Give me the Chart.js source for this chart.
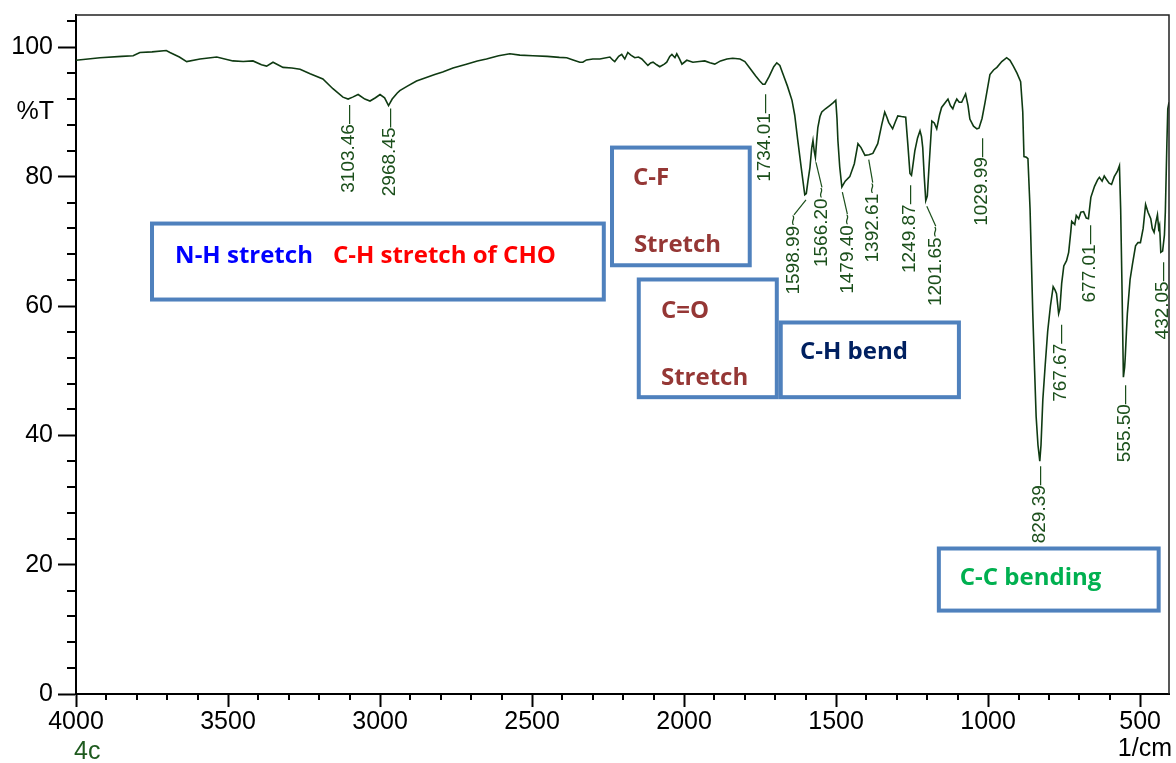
<!DOCTYPE html>
<html>
<head>
<meta charset="utf-8">
<script src="https://cdn.jsdelivr.net/npm/chart.js@4.4.1/dist/chart.umd.min.js"></script>
<style>
  html, body { margin: 0; padding: 0; background: #fff; }
  #wrap { width: 1176px; height: 763px; }
</style>
</head>
<body>
<div id="wrap"><canvas id="irChart" width="1176" height="763"></canvas></div>
<script>
// IR spectrum (wavenumber in 1/cm, transmittance in %T)
const wavenumber = [
  4000, 3921, 3850, 3812, 3790, 3750, 3703, 3691, 3660, 3636, 3592, 3537, 3484, 3450, 3418, 3390,
  3373, 3352, 3319, 3290, 3263, 3230, 3188, 3155, 3122, 3105, 3090, 3072, 3050, 3033, 3015, 3000,
  2985, 2972, 2960, 2944, 2935, 2910, 2880, 2850, 2820, 2794, 2760, 2716, 2680, 2650, 2610, 2573,
  2540, 2497, 2450, 2410, 2386, 2365, 2343, 2333, 2321, 2300, 2277, 2244, 2234, 2228, 2215, 2205,
  2195, 2185, 2175, 2162, 2150, 2139, 2119, 2110, 2102, 2090, 2080, 2065, 2057, 2047, 2040, 2030,
  2024, 2015, 2007, 1991, 1971, 1950, 1932, 1915, 1899, 1880, 1859, 1840, 1816, 1800, 1784, 1765,
  1751, 1741, 1734, 1720, 1705, 1695, 1685, 1675, 1660, 1645, 1636, 1626, 1615, 1603, 1598, 1592,
  1586, 1580, 1576, 1572, 1568, 1564, 1560, 1553, 1547, 1535, 1521, 1510, 1501, 1497, 1494, 1488,
  1481, 1470, 1455, 1440, 1428, 1418, 1405, 1392, 1379, 1363, 1350, 1340, 1333, 1327, 1314, 1305,
  1297, 1285, 1271, 1264, 1257, 1252, 1248, 1241, 1232, 1224, 1219, 1215, 1210, 1205, 1200, 1195,
  1185, 1177, 1169, 1160, 1153, 1140, 1132, 1124, 1116, 1110, 1103, 1095, 1087, 1080, 1074, 1066,
  1060, 1048, 1037, 1030, 1020, 1010, 994, 982, 971, 955, 939, 928, 917, 905, 893, 886,
  882, 874, 869, 862, 853, 847, 842, 836, 830, 826, 820, 812, 804, 795, 786, 780,
  775, 768, 764, 758, 751, 742, 735, 728, 725, 715, 710, 702, 695, 686, 677, 670,
  662, 650, 640, 634, 625, 618, 611, 602, 594, 585, 575, 568, 564, 560, 555, 551,
  549, 545, 542, 533, 525, 515, 507, 499, 490, 482, 474, 465, 460, 454, 448, 443,
  439, 436, 432, 426, 420, 417, 412, 409, 405
];
const transmittance = [
  98.0, 98.4, 98.6, 98.7, 99.2, 99.3, 99.5, 99.2, 98.5, 97.8, 98.2, 98.5, 97.9, 97.8, 97.9, 97.3,
  97.1, 97.7, 96.9, 96.8, 96.6, 95.9, 95.1, 93.6, 92.3, 92.0, 92.3, 92.7, 92.0, 91.7, 92.2, 92.7,
  92.2, 91.0, 92.0, 92.9, 93.3, 94.0, 94.8, 95.3, 95.8, 96.2, 96.8, 97.4, 97.9, 98.2, 98.7, 99.0,
  98.8, 98.7, 98.6, 98.45, 98.4, 98.05, 97.7, 97.7, 98.05, 98.2, 98.2, 98.5, 98.0, 97.8, 98.6, 98.9,
  98.2, 99.2, 98.8, 98.4, 98.5, 98.2, 97.2, 97.6, 97.7, 97.3, 97.0, 97.4, 97.7, 98.6, 98.9, 98.4,
  99.0, 98.2, 97.4, 98.0, 97.7, 97.8, 97.9, 97.6, 97.4, 97.9, 98.2, 98.3, 98.2, 97.8, 96.8, 95.6,
  94.8, 94.3, 94.3, 95.5, 97.0, 97.6, 97.2, 95.9, 94.0, 91.8, 89.5, 85.6, 81.5, 77.2, 77.4, 79.5,
  81.4, 84.5, 85.6, 84.0, 83.0, 85.5, 87.6, 89.3, 90.0, 90.5, 91.0, 91.4, 91.8, 89.0, 85.6, 81.5,
  78.4, 79.3, 80.0, 82.0, 85.1, 84.5, 83.3, 83.4, 83.6, 85.1, 88.0, 90.0, 89.2, 88.4, 87.4, 88.5,
  89.4, 89.3, 89.2, 85.0, 80.5, 80.2, 81.5, 84.0, 86.0, 87.1, 86.2, 84.5, 80.0, 76.3, 77.0, 81.0,
  88.6, 88.3, 87.4, 89.5, 90.7, 91.5, 92.0, 91.0, 90.5, 91.3, 92.0, 91.5, 91.5, 92.2, 92.8, 91.0,
  88.9, 87.8, 87.4, 87.5, 89.0, 91.5, 95.8, 96.5, 96.9, 97.8, 98.4, 98.0, 97.1, 96.0, 94.7, 90.0,
  83.1, 83.0, 82.8, 75.0, 58.8, 50.0, 42.9, 38.5, 36.0, 38.5, 45.5, 51.0, 56.1, 60.0, 63.0, 62.5,
  61.9, 58.8, 59.5, 63.5, 66.2, 67.0, 68.3, 71.5, 73.1, 72.6, 74.0, 73.5, 74.5, 74.6, 73.6, 73.5,
  76.8, 78.5, 79.5, 79.9, 79.3, 80.1, 79.6, 79.0, 78.8, 80.0, 80.8, 81.7, 75.0, 64.1, 49.0, 50.5,
  52.0, 56.0, 58.8, 64.1, 66.5, 69.3, 69.8, 69.8, 72.0, 75.7, 74.5, 73.5, 72.0, 71.4, 73.0, 74.1,
  72.0, 72.5, 68.3, 68.5, 71.0, 74.6, 85.0, 90.5, 91.5
];

// labelled peaks
const peakWavenumber = [3103.46, 2968.45, 1734.01, 1598.99, 1566.20, 1479.40, 1392.61, 1249.87,
  1201.65, 1029.99, 829.39, 767.67, 677.01, 555.50, 432.05];
const peakTransmittance = [92.0, 91.0, 94.3, 77.2, 83.0, 78.4, 83.4, 80.2,
  76.2, 87.5, 36.0, 58.8, 73.4, 49.0, 68.3];

const xTickValues = [4000, 3500, 3000, 2500, 2000, 1500, 1000, 500];
const yTickValues = [0, 20, 40, 60, 80, 100];

// layout of peak labels in pixels (offset from the peak)
const peakLabelNudge = [
  [0, 6], [0, 3], [0, 10], [-12, 20], [6, 30], [5, 27], [4, 28], [-2, 10],
  [9, 25], [3, 10], [0, 5], [2, 11], [3, 6], [2, 8], [2, 10]
];

// hand-drawn assignment boxes (in axis units)
const boxes = [
  { x1: 3750, x2: 2264, y1: 72.75, y2: 61.0 },
  { x1: 2237, x2: 1784, y1: 84.5, y2: 66.3 },
  { x1: 2149, x2: 1695, y1: 64.1, y2: 45.9 },
  { x1: 1682, x2: 1096, y1: 57.45, y2: 45.9 },
  { x1: 1162, x2: 439, y1: 22.5, y2: 12.9 }
];
const boxTexts = [
  { text: 'N-H stretch', x: 3674, y: 67.65, color: '#0000ff' },
  { text: 'C-H stretch of CHO', x: 3155, y: 67.65, color: '#ff0000' },
  { text: 'C-F', x: 2168, y: 79.8, color: '#953735' },
  { text: 'Stretch', x: 2165, y: 69.35, color: '#953735' },
  { text: 'C=O', x: 2076, y: 59.15, color: '#953735' },
  { text: 'Stretch', x: 2076, y: 48.8, color: '#953735' },
  { text: 'C-H bend', x: 1619, y: 52.8, color: '#002060' },
  { text: 'C-C bending', x: 1093, y: 17.9, color: '#00b050' }
];

const axisFont = { family: "'Liberation Sans', Arial, sans-serif", size: 25 };
const curveColor = '#0f3a12';
const labelColor = '#1b4f1b';

const overlay = {
  id: 'overlay',
  afterDraw(chart) {
    const ctx = chart.ctx;
    const xs = chart.scales.x, ys = chart.scales.y;
    const a = chart.chartArea;
    ctx.save();

    // frame top and right
    ctx.strokeStyle = '#222';
    ctx.lineWidth = 1.5;
    ctx.beginPath();
    ctx.moveTo(a.left, a.top); ctx.lineTo(a.right, a.top); ctx.lineTo(a.right, a.bottom);
    ctx.stroke();

    // minor ticks
    ctx.strokeStyle = '#000';
    ctx.lineWidth = 2;
    ctx.beginPath();
    for (let v = 500; v <= 4000; v += 100) {
      if (v % 500 === 0) continue;
      const px = Math.round(xs.getPixelForValue(v));
      ctx.moveTo(px, a.bottom); ctx.lineTo(px, a.bottom + 6);
    }
    for (let v = 0; v <= 104; v += 4) {
      if (v % 20 === 0) continue;
      const py = Math.round(ys.getPixelForValue(v));
      ctx.moveTo(a.left, py); ctx.lineTo(a.left - 9, py);
    }
    ctx.stroke();

    // axis captions
    ctx.font = `${axisFont.size}px ${axisFont.family}`;
    ctx.fillStyle = '#000';
    ctx.textBaseline = 'middle';
    ctx.textAlign = 'right';
    ctx.fillText('%T', a.left - 22, ys.getPixelForValue(90));
    ctx.fillText('1/cm', chart.width - 4, a.bottom + 55);
    ctx.textAlign = 'left';
    ctx.fillStyle = '#1e5a1e';
    ctx.fillText('4c', a.left - 2, a.bottom + 58);

    // peak labels
    ctx.font = "19px 'Liberation Sans', Arial, sans-serif";
    ctx.fillStyle = labelColor;
    ctx.strokeStyle = labelColor;
    ctx.lineWidth = 1.2;
    peakWavenumber.forEach((w, i) => {
      const px = xs.getPixelForValue(w);
      const py = ys.getPixelForValue(peakTransmittance[i]);
      const [dx, dy] = peakLabelNudge[i];
      const lx = px + dx, ly = py + dy;
      const leader = dy > 12;
      if (leader) {
        ctx.beginPath();
        ctx.moveTo(px, py + 5); ctx.lineTo(lx, ly);
        ctx.stroke();
      }
      ctx.save();
      ctx.translate(lx, ly);
      ctx.rotate(-Math.PI / 2);
      ctx.textAlign = 'right';
      ctx.textBaseline = 'middle';
      ctx.fillText(w.toFixed(2) + (leader ? '~' : '\u2014'), 0, 0);
      ctx.restore();
    });

    // assignment boxes
    ctx.lineWidth = 4;
    ctx.strokeStyle = '#4f81bd';
    boxes.forEach(b => {
      const x1 = xs.getPixelForValue(b.x1), x2 = xs.getPixelForValue(b.x2);
      const y1 = ys.getPixelForValue(b.y1), y2 = ys.getPixelForValue(b.y2);
      ctx.fillStyle = '#fff';
      ctx.fillRect(x1, y1, x2 - x1, y2 - y1);
      ctx.strokeRect(x1, y1, x2 - x1, y2 - y1);
    });
    ctx.font = "bold 24px 'Open Sans', 'Noto Sans', sans-serif";
    ctx.textAlign = 'left';
    ctx.textBaseline = 'middle';
    boxTexts.forEach(t => {
      ctx.fillStyle = t.color;
      ctx.fillText(t.text, xs.getPixelForValue(t.x), ys.getPixelForValue(t.y));
    });

    ctx.restore();
  }
};

new Chart(document.getElementById('irChart'), {
  type: 'line',
  data: {
    datasets: [{
      label: '4c',
      data: wavenumber.map((w, i) => ({ x: w, y: transmittance[i] })),
      borderColor: curveColor,
      borderWidth: 1.6,
      pointRadius: 0,
      tension: 0,
      fill: false
    }]
  },
  options: {
    responsive: false,
    animation: false,
    layout: { padding: { top: 15, right: 7, left: 0, bottom: 0 } },
    plugins: { legend: { display: false }, tooltip: { enabled: false } },
    scales: {
      x: {
        type: 'linear',
        reverse: true,
        min: 405,
        max: 4000,
        afterBuildTicks: s => { s.ticks = xTickValues.map(v => ({ value: v })); },
        afterFit: s => { s.height = 69; s.paddingLeft = 0; s.paddingRight = 0; },
        ticks: { font: axisFont, color: '#000', maxRotation: 0, autoSkip: false, padding: 0,
          callback: v => String(v) },
        grid: { drawOnChartArea: false, tickLength: 13, tickWidth: 2, tickColor: '#000' },
        border: { color: '#000', width: 2 }
      },
      y: {
        min: 0,
        max: 105,
        afterBuildTicks: s => { s.ticks = yTickValues.map(v => ({ value: v })); },
        afterFit: s => { s.width = 76; s.paddingTop = 0; s.paddingBottom = 0; },
        ticks: { font: axisFont, color: '#000', padding: 5, callback: v => String(v) },
        grid: { drawOnChartArea: false, tickLength: 18, tickWidth: 2, tickColor: '#000' },
        border: { color: '#000', width: 2 }
      }
    }
  },
  plugins: [overlay]
});
</script>
</body>
</html>
